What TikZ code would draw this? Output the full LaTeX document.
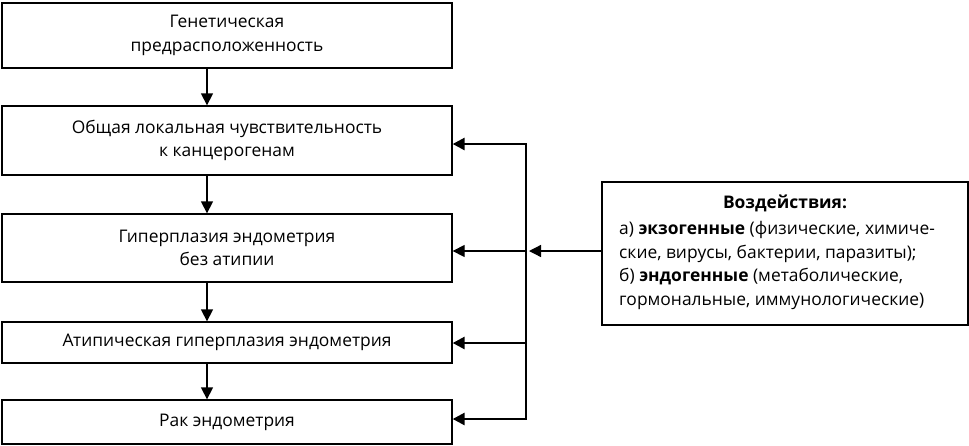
\documentclass[tikz,border=0pt]{standalone}
\usepackage{fontspec}
\setmainfont{Open Sans}
\usetikzlibrary{arrows.meta}
\begin{document}
\begin{tikzpicture}[x=1pt,y=-1pt,
  box/.style={draw, line width=1.3pt, minimum width=450pt, align=center, inner sep=0pt,
    font=\fontsize{17.4}{23.5}\selectfont},
  arr/.style={line width=1.3pt, -{Triangle[length=12pt 0 0,width=12pt 0 0]}},
  thickarr/.style={line width=2.6pt, -{Triangle[length=12pt 0 0,width=12pt 0 0]}},
  txt/.style={font=\fontsize{17.4}{23.5}\selectfont, inner sep=0pt}]
\useasboundingbox (0,0) rectangle (969,445);
\node[box, minimum height=65pt] (b1) at (227,35.5) {Генетическая\\предрасположенность};
\node[box, minimum height=69pt] (b2) at (227,140.5) {Общая локальная чувствительность\\к канцерогенам};
\node[box, minimum height=68pt] (b3) at (227,248) {Гиперплазия эндометрия\\без атипии};
\node[box, minimum height=41pt] (b4) at (227,342.5) {Атипическая гиперплазия эндометрия};
\node[box, minimum height=44pt] (b5) at (227,422) {Рак эндометрия};
\node[draw, line width=1.3pt, minimum width=366pt, minimum height=143pt, inner sep=0pt] (imp) at (785,253.5) {};
\node[txt, font=\fontsize{17.4}{23}\selectfont\bfseries] (title) at (785,203) {Воздействия:};
\node[txt, anchor=north west, align=left] (body) at (619,221.5) {а) \textbf{экзогенные} (физические, химиче-\\ские, вирусы, бактерии, паразиты);\\б) \textbf{эндогенные} (метаболические,\\гормональные, иммунологические)};
\coordinate (ax) at (207,0);
\draw[arr] (b1.south -| ax) -- (b2.north -| ax);
\draw[arr] (b2.south -| ax) -- (b3.north -| ax);
\draw[arr] (b3.south -| ax) -- (b4.north -| ax);
\draw[arr] (b4.south -| ax) -- (b5.north -| ax);
\coordinate (v2) at (527,144);
\coordinate (v3) at (527,251);
\coordinate (v4) at (527,343);
\coordinate (v5) at (527,419);
\coordinate (jin) at (529,251);
\draw[line width=1.3pt] (526,144) -- (526,419);
\draw[thickarr] (v2) -- (b2.east |- v2);
\draw[arr] (v3) -- (b3.east |- v3);
\draw[thickarr] (v4) -- (b4.east |- v4);
\draw[thickarr] (v5) -- (b5.east |- v5);
\draw[arr] (imp.west |- jin) -- (jin);
\end{tikzpicture}
\end{document}
